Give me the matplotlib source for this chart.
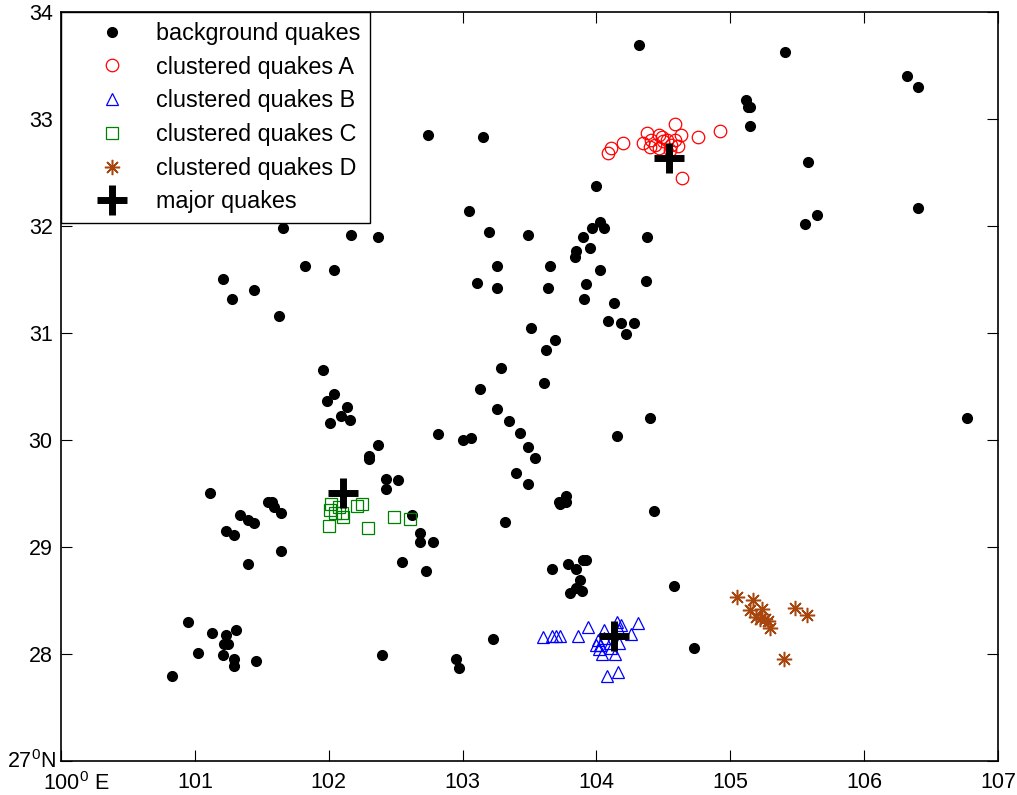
import matplotlib
matplotlib.use("Agg")
import matplotlib.pyplot as plt
from matplotlib.transforms import ScaledTranslation

plt.rcParams['font.family'] = ['Liberation Sans', 'DejaVu Sans']
plt.rcParams['mathtext.fontset'] = 'custom'
plt.rcParams['mathtext.rm'] = 'Liberation Sans'

# background quakes (lon, lat)
bg_lon = [104.32, 105.41, 106.32, 106.40, 105.12, 105.13, 105.15, 105.15, 102.74, 103.15,
          105.58, 104.00, 103.05, 105.56, 105.65, 106.40, 101.66, 102.17, 102.37, 103.20,
          103.49, 103.90, 103.97, 104.03, 104.06, 104.38, 103.95, 103.85, 103.84, 101.82,
          102.04, 101.21, 101.44, 101.28, 101.63, 103.26, 103.65, 104.03, 103.11, 103.26,
          103.64, 103.92, 103.91, 104.37, 104.13, 104.09, 104.18, 104.28, 104.22, 103.51,
          103.69, 103.62, 103.29, 103.61, 103.13, 101.96, 102.04, 101.99, 102.14, 102.09,
          102.16, 102.01, 103.26, 103.35, 103.43, 103.49, 103.54, 103.40, 103.49, 102.82,
          103.00, 103.06, 102.37, 102.30, 102.30, 102.43, 102.52, 102.43, 101.11, 101.55,
          101.58, 101.59, 101.64, 101.34, 101.40, 101.44, 101.23, 101.29, 101.64, 102.62,
          102.68, 102.68, 102.78, 103.32, 103.72, 103.77, 103.77, 103.73, 104.40, 104.15,
          106.77, 104.43, 101.40, 100.95, 101.13, 101.23, 101.31, 101.22, 101.25, 101.02,
          101.21, 101.29, 101.29, 101.46, 100.83, 102.55, 102.73, 102.40, 102.95, 102.97,
          103.23, 103.67, 103.79, 103.85, 103.90, 103.92, 103.88, 103.85, 103.80, 103.89,
          104.58, 104.73]
bg_lat = [33.69, 33.63, 33.40, 33.30, 33.18, 33.11, 33.11, 32.93, 32.85, 32.83,
          32.60, 32.37, 32.14, 32.02, 32.10, 32.17, 31.98, 31.92, 31.90, 31.94,
          31.92, 31.90, 31.98, 32.04, 31.98, 31.90, 31.79, 31.77, 31.71, 31.63,
          31.59, 31.50, 31.40, 31.32, 31.16, 31.63, 31.63, 31.59, 31.47, 31.42,
          31.42, 31.46, 31.32, 31.49, 31.28, 31.11, 31.09, 31.09, 30.99, 31.05,
          30.93, 30.84, 30.67, 30.53, 30.48, 30.65, 30.43, 30.36, 30.31, 30.22,
          30.19, 30.16, 30.29, 30.18, 30.07, 29.93, 29.83, 29.69, 29.59, 30.06,
          30.00, 30.02, 29.95, 29.85, 29.82, 29.64, 29.63, 29.54, 29.50, 29.42,
          29.42, 29.37, 29.32, 29.30, 29.25, 29.22, 29.15, 29.11, 28.96, 29.30,
          29.13, 29.05, 29.05, 29.23, 29.42, 29.48, 29.42, 29.40, 30.21, 30.04,
          30.21, 29.34, 28.84, 28.30, 28.20, 28.18, 28.22, 28.09, 28.09, 28.01,
          27.99, 27.95, 27.89, 27.93, 27.79, 28.86, 28.78, 27.99, 27.95, 27.87,
          28.14, 28.79, 28.84, 28.79, 28.88, 28.88, 28.69, 28.62, 28.57, 28.59,
          28.64, 28.06]

# cluster A
a_lon = [104.09, 104.11, 104.20, 104.35, 104.38, 104.47, 104.59, 104.63, 104.76, 104.92,
         104.64, 104.41, 104.44, 104.47, 104.50, 104.53, 104.56, 104.59, 104.61, 104.49,
         104.55, 104.40]
a_lat = [32.68, 32.73, 32.78, 32.78, 32.87, 32.85, 32.95, 32.85, 32.83, 32.89,
         32.45, 32.80, 32.76, 32.73, 32.79, 32.80, 32.76, 32.80, 32.75, 32.83,
         32.71, 32.74]

# cluster B
b_lon = [103.60, 103.67, 103.70, 103.73, 103.86, 103.94, 104.06, 104.15, 104.31, 104.26,
         104.01, 104.00, 104.02, 104.04, 104.14, 104.08, 104.16, 104.17, 104.17, 104.10,
         104.06, 104.11, 104.03, 104.18]
b_lat = [28.16, 28.17, 28.17, 28.17, 28.17, 28.25, 28.22, 28.30, 28.29, 28.19,
         28.13, 28.08, 28.05, 28.00, 28.00, 27.79, 27.83, 28.22, 28.10, 28.10,
         28.15, 28.06, 28.08, 28.27]

# cluster C
c_lon = [102.02, 102.01, 102.08, 102.10, 102.11, 102.21, 102.25, 102.00, 102.29, 102.49,
         102.61, 102.05]
c_lat = [29.40, 29.35, 29.37, 29.32, 29.28, 29.38, 29.40, 29.20, 29.18, 29.28,
         29.26, 29.32]

# cluster D
d_lon = [105.05, 105.17, 105.15, 105.24, 105.19, 105.22, 105.26, 105.28, 105.30, 105.48,
         105.57, 105.40]
d_lat = [28.53, 28.50, 28.41, 28.42, 28.35, 28.33, 28.33, 28.31, 28.24, 28.43,
         28.36, 27.95]

# major quakes
major_lon = [102.11, 104.13, 104.54]
major_lat = [29.50, 28.17, 32.64]

xticks = [100, 101, 102, 103, 104, 105, 106, 107]
xlabels = [r'100$^{\mathregular{0}}$ E', '101', '102', '103', '104', '105', '106', '107']
yticks = [27, 28, 29, 30, 31, 32, 33, 34]
ylabels = [r'27$^{\mathregular{0}}$N', '28', '29', '30', '31', '32', '33', '34']

fig = plt.figure(figsize=(10.17, 7.95), dpi=100)
ax = fig.add_axes([61 / 1017, 34 / 795, 937 / 1017, 749 / 795])

ax.plot(bg_lon, bg_lat, 'o', color='black', markersize=7, label='background quakes')
ax.plot(a_lon, a_lat, 'o', mfc='none', mec='#ff0000', markersize=9, mew=0.9,
        label='clustered quakes A')
ax.plot(b_lon, b_lat, '^', mfc='none', mec='#0000ff', markersize=8, mew=0.9,
        label='clustered quakes B')
ax.plot(c_lon, c_lat, 's', mfc='none', mec='#008000', markersize=8, mew=0.9,
        label='clustered quakes C')
ax.plot(d_lon, d_lat, ls='none', marker=(8, 2, 0), color='#a8460e', markersize=11, mew=1.1,
        label='clustered quakes D')
ax.plot(major_lon, major_lat, '+', color='black', markersize=22, mew=5, label='major quakes')

ax.set_xlim(100, 107)
ax.set_ylim(27, 34)
ax.set_xticks(xticks)
ax.set_xticklabels(xlabels)
ax.set_yticks(yticks)
ax.set_yticklabels(ylabels)
ax.tick_params(direction='in', length=8, width=0.8, labelsize=15.5,
               top=True, right=True)
ax.tick_params(axis='x', pad=8)
ax.tick_params(axis='y', pad=6)
for s in ax.spines.values():
    s.set_linewidth(1.2)

# the corner labels sit a bit off their ticks, as in the original
lab_x0 = ax.get_xticklabels()[0]
lab_x0.set_transform(lab_x0.get_transform() + ScaledTranslation(0.15, 0, fig.dpi_scale_trans))
lab_y0 = ax.get_yticklabels()[0]
lab_y0.set_transform(lab_y0.get_transform() + ScaledTranslation(0.03, 0.02, fig.dpi_scale_trans))

leg = ax.legend(loc='upper left', fontsize=16.8, frameon=True, fancybox=False,
                edgecolor='black', framealpha=1, borderaxespad=0,
                handlelength=3.5, handletextpad=0.15, labelspacing=0.46,
                borderpad=0.42)
leg.get_frame().set_linewidth(1.0)

fig.savefig('out.png', dpi=100)
